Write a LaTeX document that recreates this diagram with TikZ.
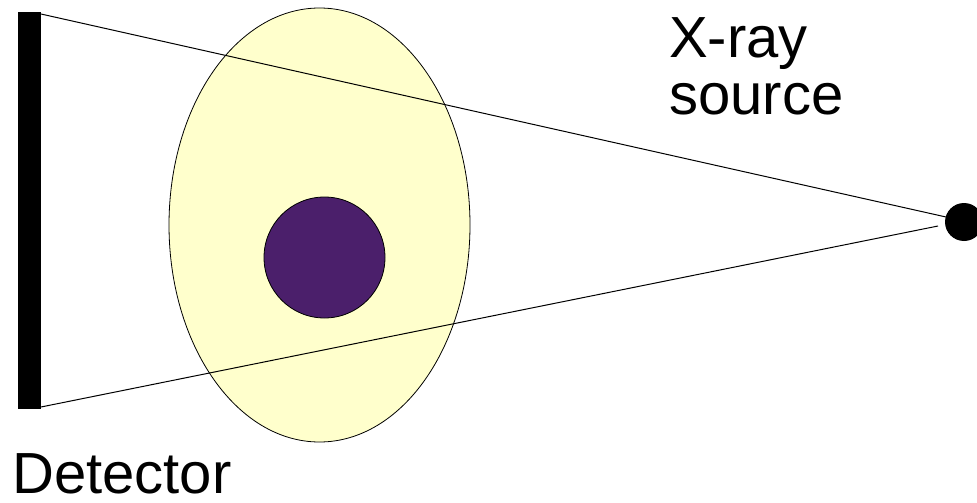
\documentclass[tikz,border=0pt]{standalone}
\usepackage{fontspec}
\setmainfont{Liberation Sans}
\usetikzlibrary{shapes.geometric}
\definecolor{bodyfill}{RGB}{255,255,204}
\definecolor{lesion}{RGB}{75,31,107}
\tikzset{
  lbl/.style={font=\fontsize{58pt}{56pt}\selectfont, inner sep=0pt, anchor=base west},
  ray/.style={line width=1pt, black},
}
\begin{document}
\begin{tikzpicture}[x=1pt,y=-1pt]
\useasboundingbox (0,0) rectangle (977,503);
\clip (0,0) rectangle (977,503);
% detector bar
\node (det) [fill=black, minimum width=23pt, minimum height=397pt, inner sep=0pt, draw=none] at (29.5,210.5) {};
% object
\node (body) [ellipse, fill=bodyfill, draw=black, line width=0.8pt, minimum width=301pt, minimum height=434pt, inner sep=0pt] at (319.5,225) {};
\node (lesion) [circle, fill=lesion, draw=black, line width=0.8pt, minimum size=121pt, inner sep=0pt] at (324.5,257.5) {};
% source
\node (src) [circle, fill=black, minimum size=38pt, inner sep=0pt] at (964,222) {};
\coordinate (dt) at (41,14);
\coordinate (db) at (41,407);
\coordinate (st) at (946,217);
\coordinate (sb) at (938,226);
\draw[ray] (dt) -- (st);
\draw[ray] (db) -- (sb);
% labels
\node (xray) [lbl] at (669,58) {X-ray};
\node (source) [lbl] at (669,114) {source};
\node (detector) [lbl] at (12,493) {Detector};
\end{tikzpicture}
\end{document}
